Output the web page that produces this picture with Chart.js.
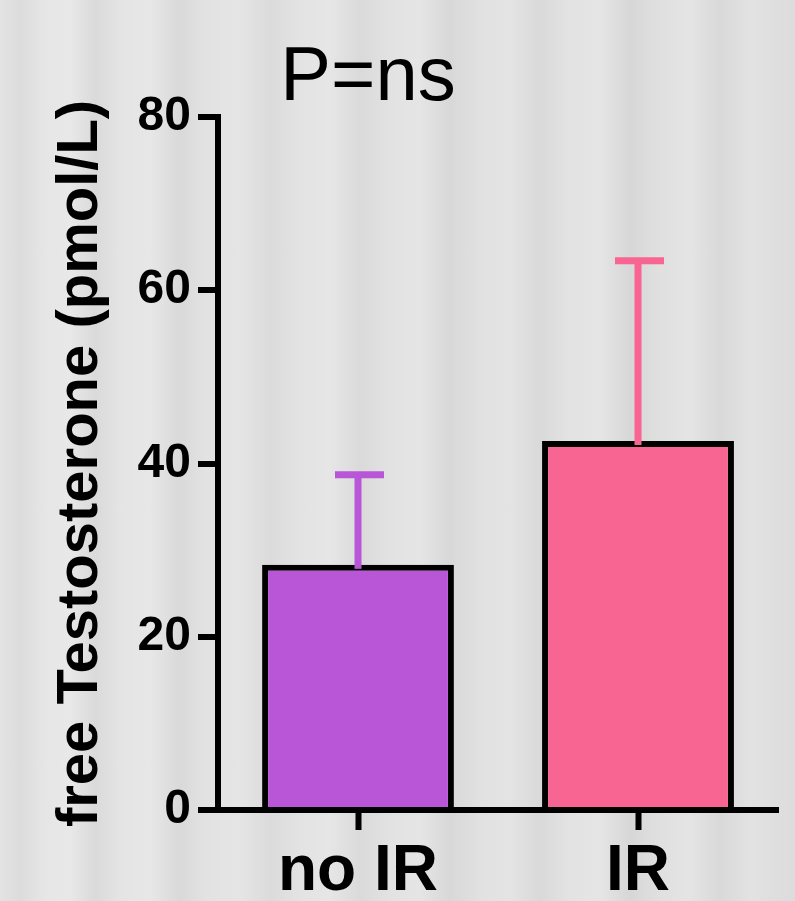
<!DOCTYPE html>
<html>
<head>
<meta charset="utf-8">
<script src="https://cdn.jsdelivr.net/npm/chart.js@4"></script>
<style>
  html, body {
    margin: 0;
    padding: 0;
  }
  body {
    width: 795px;
    height: 901px;
    background-color: #e0e0e0;
    background-image: linear-gradient(to right,
      #e3e3e3 0px, #dcdcdc 20px, #e6e6e6 45px, #e8e8e8 70px, #dadada 95px,
      #e4e4e4 120px, #e7e7e7 150px, #d9d9d9 180px, #e2e2e2 205px, #e5e5e5 240px,
      #dbdbdb 270px, #e3e3e3 300px, #e6e6e6 330px, #dadada 360px, #e2e2e2 390px,
      #e5e5e5 420px, #d8d8d8 450px, #e1e1e1 480px, #e4e4e4 510px, #d9d9d9 540px,
      #e3e3e3 570px, #e5e5e5 600px, #d7d7d7 630px, #e0e0e0 660px, #e4e4e4 690px,
      #d9d9d9 720px, #e2e2e2 750px, #dcdcdc 795px);
  }
  #wrap {
    width: 795px;
    height: 901px;
  }
</style>
</head>
<body>
<div id="wrap"><canvas id="fTestoChart" width="795" height="901"></canvas></div>
<script>
const groups = ["no IR", "IR"]
const meanValues = [28.3, 42.6]
const sdValues = [10.4, 20.8]
const yTicks = [0, 20, 40, 60, 80]
const barColors = ["#b856d7", "#f86592"]
const titleText = "P=ns"

const FONT = "'Liberation Sans', Arial, sans-serif"

// upper error bars, drawn through the y scale
const errorBars = {
    id: "errorBars",
    afterDatasetsDraw(chart) {
        const ctx = chart.ctx
        const meta = chart.getDatasetMeta(0)
        const y = chart.scales.y
        ctx.save()
        meta.data.forEach((bar, i) => {
            const x = bar.x
            const yTop = y.getPixelForValue(meanValues[i] + sdValues[i])
            const yBase = y.getPixelForValue(meanValues[i])
            ctx.strokeStyle = barColors[i]
            ctx.lineWidth = 7
            ctx.lineCap = "butt"
            ctx.beginPath()
            ctx.moveTo(x, yBase + 4)
            ctx.lineTo(x, yTop)
            ctx.stroke()
            ctx.beginPath()
            ctx.moveTo(x - 23, yTop)
            ctx.lineTo(x + 26, yTop)
            ctx.stroke()
        })
        ctx.restore()
    }
}

const topTitle = {
    id: "topTitle",
    afterDraw(chart) {
        const ctx = chart.ctx
        ctx.save()
        ctx.fillStyle = "#000"
        ctx.font = "76px " + FONT
        ctx.textAlign = "center"
        ctx.textBaseline = "alphabetic"
        ctx.fillText(titleText, 368, 100)
        ctx.restore()
    }
}

new Chart(document.getElementById("fTestoChart"), {
    type: "bar",
    data: {
        labels: groups,
        datasets: [{
            data: meanValues,
            backgroundColor: barColors,
            borderColor: "#000",
            borderWidth: 6,
            borderSkipped: "bottom",
            barPercentage: 0.685,
            categoryPercentage: 1
        }]
    },
    options: {
        responsive: false,
        animation: false,
        layout: {
            padding: { top: 117, right: 17, bottom: 0, left: 46 }
        },
        plugins: {
            legend: { display: false },
            tooltip: { enabled: false }
        },
        scales: {
            x: {
                offset: true,
                grid: {
                    offset: false,
                    drawOnChartArea: false,
                    drawTicks: true,
                    tickLength: 20,
                    tickWidth: 6,
                    tickColor: "#000"
                },
                border: { display: true, color: "#000", width: 6 },
                ticks: {
                    color: "#000",
                    padding: 4,
                    font: { family: FONT, size: 64, weight: "bold" }
                },
                afterFit(scale) {
                    scale.height = 91
                }
            },
            y: {
                min: 0,
                max: 80,
                afterBuildTicks(scale) {
                    scale.ticks = yTicks.map(v => ({ value: v }))
                },
                grid: {
                    drawOnChartArea: false,
                    drawTicks: true,
                    tickLength: 20,
                    lineWidth: 6,
                    color: "#000"
                },
                border: { display: true, color: "#000", width: 6 },
                ticks: {
                    color: "#000",
                    padding: 7,
                    font: { family: FONT, size: 48, weight: "bold" }
                },
                title: {
                    display: true,
                    text: "free Testosterone (pmol/L)",
                    color: "#000",
                    padding: { top: 0, bottom: 0 },
                    font: { family: FONT, size: 58, weight: "bold" }
                },
                afterFit(scale) {
                    scale.width = 172
                }
            }
        }
    },
    plugins: [errorBars, topTitle]
})
</script>
</body>
</html>
